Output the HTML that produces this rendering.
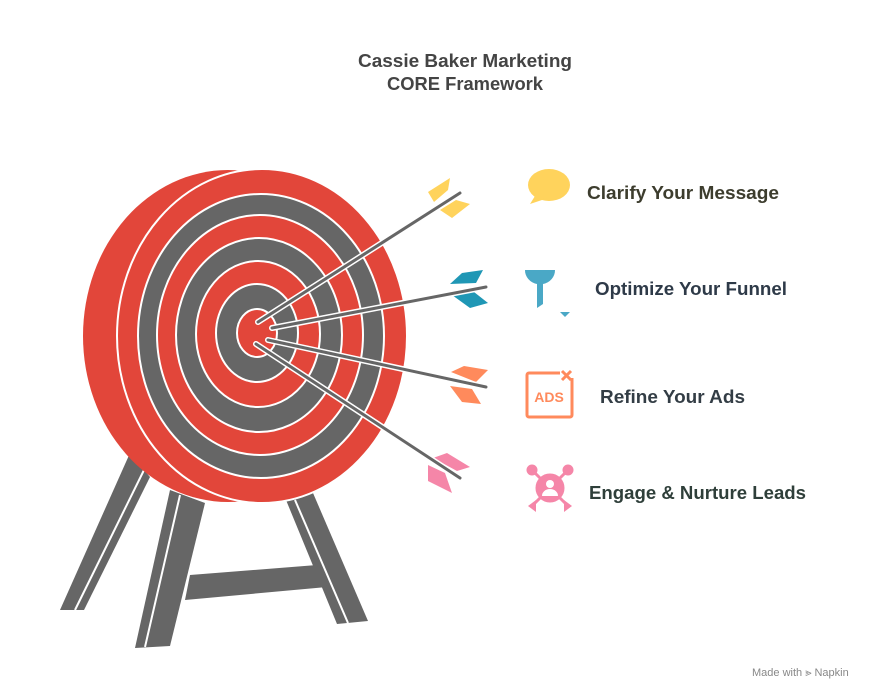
<!DOCTYPE html>
<html><head><meta charset="utf-8"><style>
body{margin:0;background:#fff;}
svg{display:block;}
text{font-family:"Liberation Sans",sans-serif;}
</style></head><body>
<svg width="886" height="700" viewBox="0 0 886 700" xmlns="http://www.w3.org/2000/svg">
<text x="358" y="67" font-size="18" font-weight="bold" fill="#444" textLength="214" lengthAdjust="spacingAndGlyphs">Cassie Baker Marketing</text>
<text x="387" y="90" font-size="18" font-weight="bold" fill="#444" textLength="156" lengthAdjust="spacingAndGlyphs">CORE Framework</text>
<!-- legs -->
<polygon points="130,453 150,477 84,610 60,610" fill="#666"/>
<line x1="145" y1="468" x2="75" y2="610" stroke="#fff" stroke-width="2"/>
<polygon points="170,490 205,503 170,646 135,648" fill="#666"/>
<line x1="180" y1="495" x2="145" y2="647" stroke="#fff" stroke-width="2"/>
<polygon points="286,500 313,493 368,621 337,624" fill="#666"/>
<line x1="295" y1="500" x2="348" y2="623" stroke="#fff" stroke-width="2"/>
<polygon points="190,575 317,565 327,587 185,600" fill="#666"/>
<!-- back disc -->
<ellipse cx="228" cy="336" rx="145" ry="166" fill="#e2463a"/>
<ellipse cx="262" cy="336" rx="145" ry="167" fill="#e2463a" stroke="#fff" stroke-width="2"/>
<g stroke="#fff" stroke-width="2">
<ellipse cx="261" cy="336" rx="123" ry="142" fill="#666"/>
<ellipse cx="260" cy="335" rx="103" ry="120" fill="#e2463a"/>
<ellipse cx="259" cy="335" rx="83" ry="97" fill="#666"/>
<ellipse cx="258" cy="334" rx="62" ry="73" fill="#e2463a"/>
<ellipse cx="257" cy="333" rx="41" ry="49" fill="#666"/>
<ellipse cx="257" cy="333" rx="20" ry="24" fill="#e2463a"/>
</g>
<!-- arrows -->
<g stroke-linecap="round">
<polygon points="428,192 450,178 448,190 434,202" fill="#ffd35c"/>
<polygon points="440,210 456,200 470,204 452,218" fill="#ffd35c"/>
<line x1="460" y1="193" x2="258" y2="322" stroke="#fff" stroke-width="6"/>
<line x1="460" y1="193" x2="258" y2="322" stroke="#666" stroke-width="3"/>
<polygon points="450,284 462,273 483,270 476,283" fill="#1f97b5"/>
<polygon points="452,295 474,292 488,303 470,308" fill="#1f97b5"/>
<line x1="486" y1="287" x2="272" y2="328" stroke="#fff" stroke-width="6"/>
<line x1="486" y1="287" x2="272" y2="328" stroke="#666" stroke-width="3"/>
<polygon points="451,372 464,366 488,370 476,382" fill="#ff8a5c"/>
<polygon points="450,386 472,389 481,404 462,402" fill="#ff8a5c"/>
<line x1="486" y1="387" x2="268" y2="340" stroke="#fff" stroke-width="6"/>
<line x1="486" y1="387" x2="268" y2="340" stroke="#666" stroke-width="3"/>
<polygon points="433,458 447,453 470,467 457,471" fill="#f586a8"/>
<polygon points="428,465 445,473 452,493 428,481" fill="#f586a8"/>
<line x1="460" y1="478" x2="256" y2="344" stroke="#fff" stroke-width="6"/>
<line x1="460" y1="478" x2="256" y2="344" stroke="#666" stroke-width="3"/>
</g>
<!-- icons -->
<ellipse cx="549" cy="185" rx="21" ry="16" fill="#ffd35c"/>
<path d="M535 196 L530 204 L545 199 Z" fill="#ffd35c"/>
<path d="M525 270 h30 a15 14 0 0 1 -12 14 v20 l-6 4 v-24 a15 14 0 0 1 -12 -14z" fill="#4aa8c6"/>
<polygon points="560,312 570,312 565,317" fill="#4aa8c6"/>
<rect x="527" y="373" width="45" height="44" fill="none" stroke="#ff8a5c" stroke-width="3" rx="2"/>
<rect x="560" y="368" width="14" height="10" fill="#fff"/>
<text x="549" y="402" text-anchor="middle" font-size="14" font-weight="bold" fill="#ff8a5c" font-family="Liberation Mono, monospace">ADS</text>
<path d="M562 371 l9 9 M571 371 l-9 9" stroke="#ff8a5c" stroke-width="3"/>
<g stroke="#f586a8" stroke-width="3" fill="#f586a8">
<circle cx="550" cy="488" r="13"/>
<line x1="532" y1="470" x2="568" y2="506"/><line x1="568" y1="470" x2="532" y2="506"/>
<circle cx="532" cy="470" r="4"/><circle cx="568" cy="470" r="4"/>
</g>
<polygon points="528,506 536,500 536,512" fill="#f586a8"/><polygon points="572,506 564,500 564,512" fill="#f586a8"/>
<circle cx="550" cy="484" r="4" fill="#fff"/><path d="M542 496 a8 7 0 0 1 16 0z" fill="#fff"/>
<!-- labels -->
<text x="587" y="199" font-size="18" font-weight="bold" fill="#3d3d2e" textLength="192" lengthAdjust="spacingAndGlyphs">Clarify Your Message</text>
<text x="595" y="295" font-size="18" font-weight="bold" fill="#2e3a48" textLength="192" lengthAdjust="spacingAndGlyphs">Optimize Your Funnel</text>
<text x="600" y="403" font-size="18" font-weight="bold" fill="#333d45" textLength="145" lengthAdjust="spacingAndGlyphs">Refine Your Ads</text>
<text x="589" y="499" font-size="18" font-weight="bold" fill="#2f3f3a" textLength="217" lengthAdjust="spacingAndGlyphs">Engage &amp; Nurture Leads</text>
<text x="752" y="676" font-size="11" fill="#888">Made with ⪢ Napkin</text>
</svg>
</body></html>
